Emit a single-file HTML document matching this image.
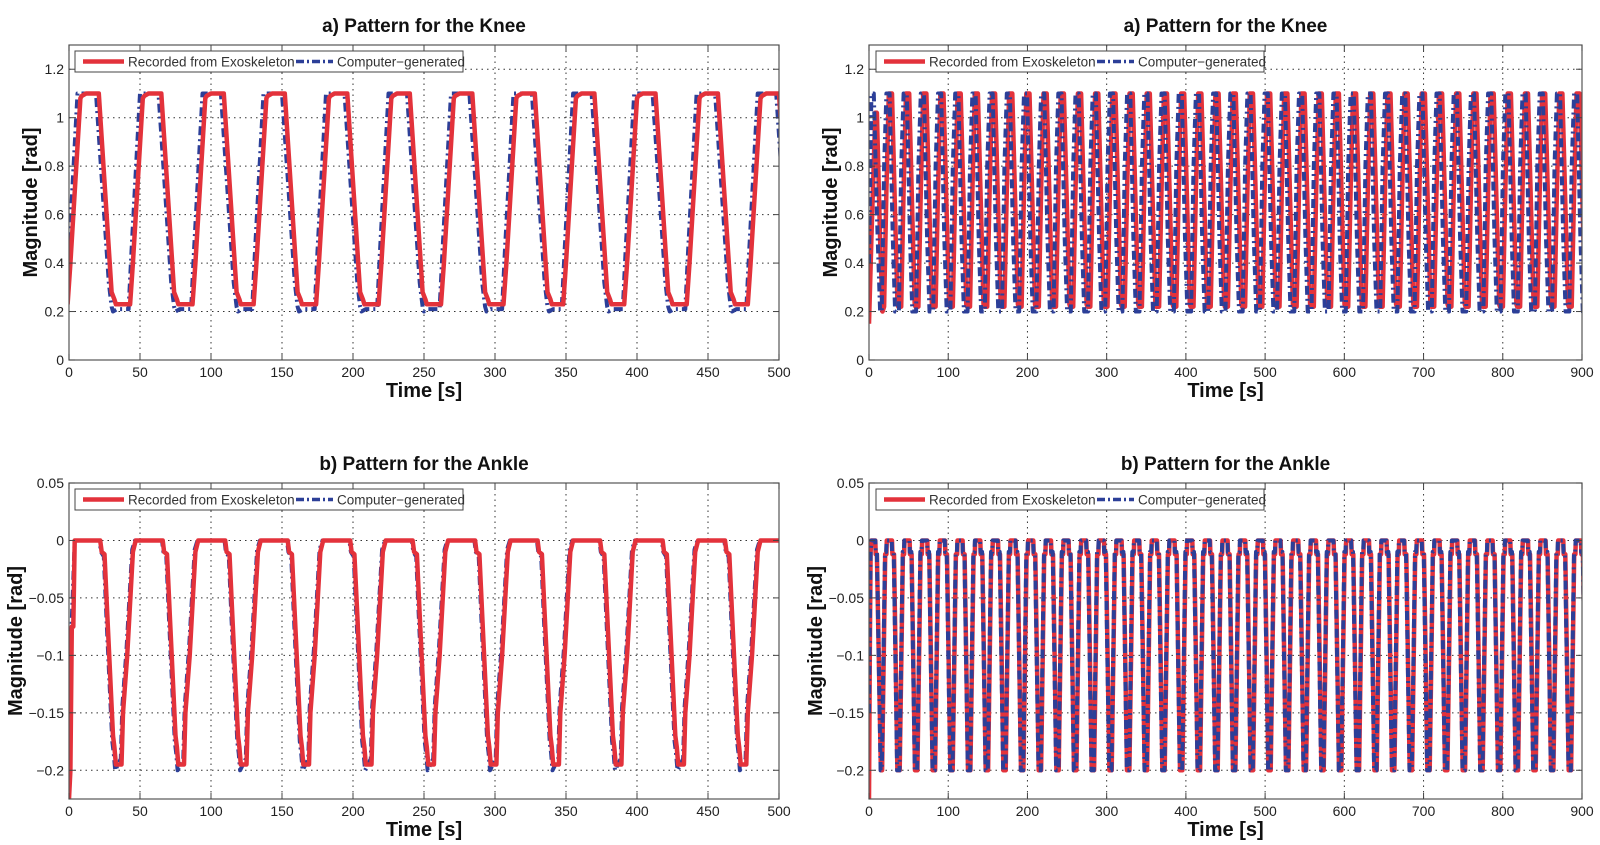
<!DOCTYPE html>
<html><head><meta charset="utf-8"><style>
html,body{margin:0;padding:0;background:#fff;}
svg{display:block;font-family:"Liberation Sans",Arial,sans-serif;}
</style></head><body>
<svg id="fig" width="1600" height="845" viewBox="0 0 1600 845"></svg>
<script>
// ---- data ----
// knee cycle template: relative times and values
const kneeCycleT = [0, 2, 9, 10, 13, 22, 31, 33, 34, 38];
const kneeRedV   = [0.23, 0.40, 1.08, 1.09, 1.10, 1.10, 0.28, 0.25, 0.23, 0.23];
const kneeBlueT  = [0, 2, 8, 10, 13, 21, 30, 32, 33, 36];
const kneeBlueV  = [0.21, 0.45, 1.10, 1.10, 1.10, 1.10, 0.32, 0.22, 0.20, 0.21];
const kneeLeftStarts = [-1, 43, 87, 130, 174, 218, 262, 306, 348, 391, 435, 478];
// fast knee (right) template
const kneeFastT  = [0, 3, 6, 10, 14, 17, 18];
const kneeFastRed  = [0.22, 0.7, 1.10, 1.10, 0.6, 0.23, 0.22];
const kneeFastBlue = [0.20, 0.8, 1.10, 1.10, 0.5, 0.20, 0.20];
const kneeFastPeriod = [21.7];
// ankle template (starting at the fall from 0)
const ankleCycleT = [0, 1, 3, 5, 9, 10, 11, 15, 16, 19, 23, 25, 44];
const ankleRedV   = [0, -0.01, -0.012, -0.065, -0.17, -0.18, -0.195, -0.195, -0.15, -0.10, -0.01, 0, 0];
const ankleBlueV  = [0, -0.01, -0.014, -0.07, -0.175, -0.185, -0.2, -0.19, -0.145, -0.095, -0.008, 0, 0];
const ankleLeftStarts = [-22, 22, 66, 110, 154, 198, 242, 286, 330, 374, 418, 462];
// fast ankle (right) template, starting at bottom
const ankleFastT    = [0, 1.5, 5.5, 7, 7.5, 14, 14.5, 16.5, 20.8];
const ankleFastRed  = [-0.2, -0.2, -0.012, -0.012, 0, 0, -0.012, -0.012, -0.2];
const ankleFastBlue = [-0.2, -0.2, -0.01, -0.01, 0, 0, -0.01, -0.01, -0.2];
const ankleFastPeriod = [22.3];
const kneeTicks = [0, 0.2, 0.4, 0.6, 0.8, 1, 1.2];
const ankleTicks = [0.05, 0, -0.05, -0.1, -0.15, -0.2];
const xTicks500 = [0, 50, 100, 150, 200, 250, 300, 350, 400, 450, 500];
const xTicks900 = [0, 100, 200, 300, 400, 500, 600, 700, 800, 900];

const NS = "http://www.w3.org/2000/svg";
const svg = document.getElementById('fig');
function mk(tag, attrs, parent){ const e=document.createElementNS(NS,tag); for(const k in attrs) e.setAttribute(k,attrs[k]); (parent||svg).appendChild(e); return e; }

function tile(starts, T, V){
  const pts=[];
  starts.forEach(s=>{ T.forEach((t,i)=>{ pts.push([s+t,V[i]]); }); });
  return pts;
}
function tilePeriod(start, period, T, V, xmax){
  const starts=[]; for(let s=start; s<xmax; s+=period) starts.push(s);
  return tile(starts,T,V);
}

let clipId=0;
function panel(o){
  const {L,R,T,B,xmin,xmax,ymin,ymax,xt,yt,title,red,blue,legY,legX1,ylabX,pname,blueTop}=o;
  const g=mk('g',{});  
  const sx=v=>L+(v-xmin)/(xmax-xmin)*(R-L);
  const sy=v=>B-(v-ymin)/(ymax-ymin)*(B-T);
  const t=mk('text',{x:(L+R)/2,y:T-13,'text-anchor':'middle','font-size':19,'font-weight':'bold',fill:'#111'},g);
  t.textContent=title;  
  xt.forEach(v=>{ if(v===xmin||v===xmax) return; const l=mk('line',{x1:sx(v),x2:sx(v),y1:T,y2:B,stroke:'#333','stroke-width':1,'stroke-dasharray':'1.5,4'},g);   });
  yt.forEach(v=>{ const yy=sy(v); if(Math.abs(yy-T)<1||Math.abs(yy-B)<1) return; const l=mk('line',{x1:L,x2:R,y1:yy,y2:yy,stroke:'#333','stroke-width':1,'stroke-dasharray':'1.5,4'},g);   });
  clipId++; const cp=mk('clipPath',{id:'c'+clipId},g); mk('rect',{x:L,y:T,width:R-L,height:B-T},cp);
  const lg=mk('g',{'clip-path':'url(#c'+clipId+')'},g);
  const path=pts=>pts.map((p,i)=>(i?'L':'M')+sx(p[0]).toFixed(1)+','+sy(p[1]).toFixed(1)).join('');
  function drawBlue(){ const bl=mk('path',{d:path(blue),fill:'none',stroke:'#2c3f98','stroke-width':4,'stroke-dasharray':'9,4,2,4','stroke-linejoin':'round'},lg);
      }
  function drawRed(){ const rl=mk('path',{d:path(red),fill:'none',stroke:'#e3323b','stroke-width':4.5,'stroke-linejoin':'round'},lg);
      }
  if(blueTop){ drawRed(); drawBlue(); } else { drawBlue(); drawRed(); }
  const bx=mk('rect',{x:L,y:T,width:R-L,height:B-T,fill:'none',stroke:'#555','stroke-width':1.2},g);
   
  xt.forEach(v=>{ mk('line',{x1:sx(v),x2:sx(v),y1:B,y2:B-6,stroke:'#444'},g); mk('line',{x1:sx(v),x2:sx(v),y1:T,y2:T+6,stroke:'#444'},g);
    const tx=mk('text',{x:sx(v),y:B+17,'text-anchor':'middle','font-size':14,fill:'#222'},g); tx.textContent=v;   });
  yt.forEach(v=>{ mk('line',{x1:L,x2:L+6,y1:sy(v),y2:sy(v),stroke:'#444'},g); mk('line',{x1:R,x2:R-6,y1:sy(v),y2:sy(v),stroke:'#444'},g);
    const tx=mk('text',{x:L-5,y:sy(v)+5,'text-anchor':'end','font-size':14,fill:'#222'},g); tx.textContent=String(v).replace('-','\u2212');   });
  const xl=mk('text',{x:(L+R)/2,y:B+37,'text-anchor':'middle','font-size':20,'font-weight':'bold',fill:'#111'},g);
  xl.textContent='Time [s]';  
  const yl=mk('text',{x:0,y:0,'text-anchor':'middle','font-size':20,'font-weight':'bold',fill:'#111',transform:`translate(${ylabX},${(T+B)/2}) rotate(-90)`},g);
  yl.textContent='Magnitude [rad]';  
  const lgd=mk('g',{},g);  
  mk('rect',{x:legX1,y:legY,width:388,height:21,fill:'#fff',stroke:'#444','stroke-width':1},lgd);
  mk('line',{x1:legX1+8,x2:legX1+49,y1:legY+10.5,y2:legY+10.5,stroke:'#e3323b','stroke-width':4.5},lgd);
  const t1=mk('text',{x:legX1+53,y:legY+15.5,'font-size':13.5,fill:'#333'},lgd); t1.textContent='Recorded from Exoskeleton';  
  mk('line',{x1:legX1+221,x2:legX1+258,y1:legY+10.5,y2:legY+10.5,stroke:'#2c3f98','stroke-width':3.5,'stroke-dasharray':'8,3,2,3'},lgd);
  const t2=mk('text',{x:legX1+262,y:legY+15.5,'font-size':13.5,fill:'#333'},lgd); t2.textContent='Computer\u2212generated';  
}

// Knee left
let kr=[[0,0.23]].concat(tile(kneeLeftStarts,kneeCycleT,kneeRedV));
let kb=[[0,0.4]].concat(tile(kneeLeftStarts.map(s=>s-1),kneeBlueT,kneeBlueV));
panel({pname:'knee-panel-500s',L:69,R:779,T:45,B:360,xmin:0,xmax:500,ymin:0,ymax:1.3,xt:xTicks500,yt:kneeTicks,title:'a) Pattern for the Knee',red:kr,blue:kb,legY:51,legX1:75,ylabX:37,blueTop:false});
// Knee right
let fr=[[0,0.15],[3,0.5],[8,1.02],[10,1.02],[14,0.5],[17,0.2]].concat(tilePeriod(19,kneeFastPeriod[0],kneeFastT,kneeFastRed,905));
let fb=[[0,0.4],[3,1.1],[6,1.1],[10,0.6],[14,0.2],[16,0.2]].concat(tilePeriod(16,kneeFastPeriod[0],kneeFastT,kneeFastBlue,905));
panel({pname:'knee-panel-900s',L:869,R:1582,T:45,B:360,xmin:0,xmax:900,ymin:0,ymax:1.3,xt:xTicks900,yt:kneeTicks,title:'a) Pattern for the Knee',red:fr,blue:fb,legY:51,legX1:876,ylabX:837,blueTop:true});
// Ankle left
let ar=[[0,-0.225],[1,-0.2],[2,-0.075],[3,-0.075],[4,0]].concat(tile(ankleLeftStarts.slice(1),ankleCycleT,ankleRedV));
let ab=[[0,-0.15],[2,-0.07],[4,0]].concat(tile(ankleLeftStarts.slice(1).map(s=>s-0.5),ankleCycleT,ankleBlueV));
panel({pname:'ankle-panel-500s',L:69,R:779,T:483,B:799,xmin:0,xmax:500,ymin:-0.225,ymax:0.05,xt:xTicks500,yt:ankleTicks,title:'b) Pattern for the Ankle',red:ar,blue:ab,legY:489,legX1:75,ylabX:22,blueTop:false});
// Ankle right
let afr=[[0,-0.225],[1,-0.1],[2,-0.01],[3,0],[8,0],[8.5,-0.012],[10,-0.012]].concat(tilePeriod(15,ankleFastPeriod[0],ankleFastT,ankleFastRed,905));
let afb=[[0,-0.15],[2,-0.01],[3,0],[8,0],[8.5,-0.01],[10,-0.01]].concat(tilePeriod(14.7,ankleFastPeriod[0],ankleFastT,ankleFastBlue,905));
panel({pname:'ankle-panel-900s',L:869,R:1582,T:483,B:799,xmin:0,xmax:900,ymin:-0.225,ymax:0.05,xt:xTicks900,yt:ankleTicks,title:'b) Pattern for the Ankle',red:afr,blue:afb,legY:489,legX1:876,ylabX:822,blueTop:true});
</script>
</body></html>
